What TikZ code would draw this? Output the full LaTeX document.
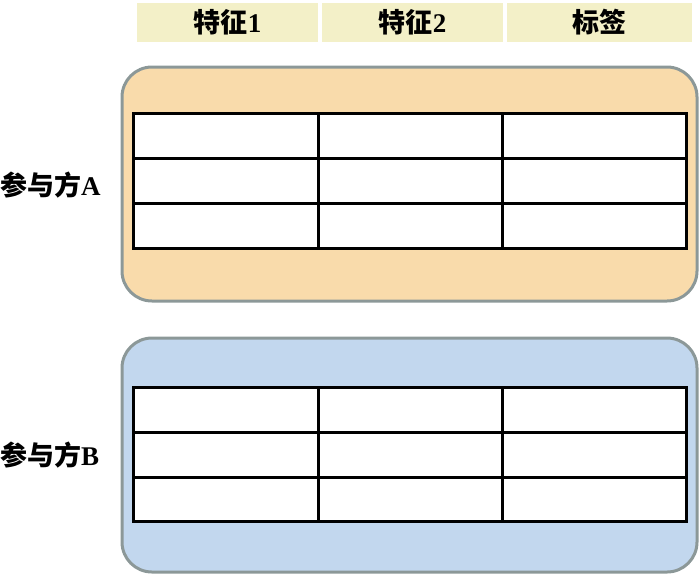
\documentclass[tikz,border=0pt]{standalone}
\usepackage{fontspec}
\setmainfont{Liberation Serif}
\newfontfamily\cjk{Noto Sans CJK SC}
\definecolor{hdr}{HTML}{F3F0C8}
\definecolor{fillA}{HTML}{F9DBAB}
\definecolor{fillB}{HTML}{C2D7EE}
\definecolor{bord}{HTML}{8C9898}
\tikzset{
  hdrcell/.style={fill=hdr, draw=none, inner sep=0pt, font=\fontsize{27}{30}\selectfont\bfseries},
  panel/.style={draw=bord, line width=3pt, rounded corners=30pt},
  grid line/.style={line width=3pt, draw=black},
  sidelabel/.style={font=\fontsize{27}{30}\selectfont\bfseries, anchor=west, inner sep=0pt}
}
\begin{document}
\begin{tikzpicture}[x=1pt,y=-1pt]
\useasboundingbox (0,0) rectangle (700,574);
% header
\node[hdrcell, minimum width=181pt, minimum height=39pt] (h1) at (227.5,22.5) {{\cjk\bfseries 特征}1};
\node[hdrcell, minimum width=181pt, minimum height=39pt] (h2) at (412.5,22.5) {{\cjk\bfseries 特征}2};
\node[hdrcell, minimum width=185pt, minimum height=39pt] (h3) at (599.5,22.5) {{\cjk\bfseries 标签}};
% panels
\draw[panel, fill=fillA] (122,67) rectangle (697,301);
\draw[panel, fill=fillB] (122,338) rectangle (697,572);
% table A
\filldraw[grid line, fill=white] (133,113) rectangle (686,248);
\draw[grid line] (133,158) -- (686,158) (133,203) -- (686,203)
  (318,113) -- (318,248) (502,113) -- (502,248);
% table B
\filldraw[grid line, fill=white] (133,387) rectangle (686,521);
\draw[grid line] (133,432) -- (686,432) (133,477) -- (686,477)
  (318,387) -- (318,521) (502,387) -- (502,521);
% labels
\node[sidelabel] (la) at (0,185) {{\cjk\bfseries 参与方}A};
\node[sidelabel] (lb) at (0,455) {{\cjk\bfseries 参与方}B};
\end{tikzpicture}
\end{document}
